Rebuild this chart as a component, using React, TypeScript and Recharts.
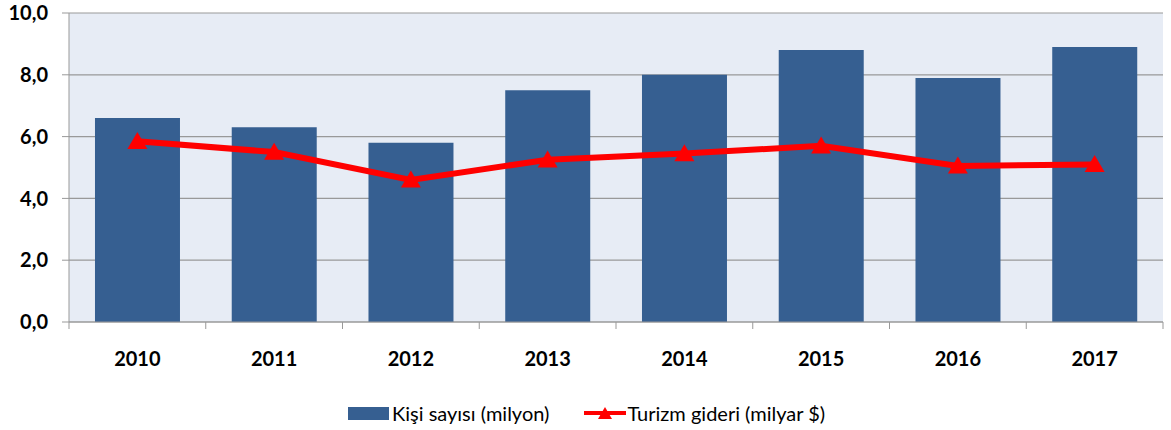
import React from 'react';
import { ComposedChart, Bar, Line, XAxis, YAxis, CartesianGrid, Legend } from 'recharts';

const categories = ['2010', '2011', '2012', '2013', '2014', '2015', '2016', '2017'];
const kisiSayisi = [6.6, 6.3, 5.8, 7.5, 8.0, 8.8, 7.9, 8.9];
const turizmGideri = [5.85, 5.5, 4.6, 5.25, 5.45, 5.7, 5.05, 5.1];
const yTicks = [0, 2, 4, 6, 8, 10];

const data = categories.map((c, i) => ({ year: c, kisi: kisiSayisi[i], turizm: turizmGideri[i] }));

const W = 1171;
const H = 430;
const PLOT_LEFT = 69;
const PLOT_RIGHT = 1163;
const BAND = (PLOT_RIGHT - PLOT_LEFT) / categories.length;
const FONT = 'Lato, "Open Sans", sans-serif';
const BAR_COLOR = '#365F91';
const RED = '#FF0000';

const Triangle = (props: any) => {
  const { cx, cy } = props;
  if (cx == null || cy == null) return null;
  const w = 20;
  const h = 17;
  return (
    <polygon
      points={`${cx - w / 2},${cy + h * 0.45} ${cx + w / 2},${cy + h * 0.45} ${cx},${cy - h * 0.55}`}
      fill={RED}
    />
  );
};

const XTick = (props: any) => {
  const { x, y, payload, index } = props;
  const axisY = y - 8;
  return (
    <g>
      <line x1={x - BAND / 2} y1={axisY} x2={x - BAND / 2} y2={axisY + 7} stroke="#999" strokeWidth={1} />
      {index === categories.length - 1 && (
        <line x1={x + BAND / 2} y1={axisY} x2={x + BAND / 2} y2={axisY + 7} stroke="#999" strokeWidth={1} />
      )}
      <text x={x} y={axisY + 44} textAnchor="middle" fontFamily={FONT} fontWeight="bold" fontSize={20} fill="#000">
        {payload.value}
      </text>
    </g>
  );
};

const LegendContent = () => (
  <div style={{ height: 58, position: 'relative', fontFamily: FONT, fontSize: 20, color: '#000' }}>
    <div style={{ position: 'absolute', left: 348, top: 29, display: 'flex', alignItems: 'center', whiteSpace: 'nowrap' }}>
      <div style={{ width: 41, height: 13, background: BAR_COLOR, marginRight: 3 }} />
      <span>Kişi sayısı (milyon)</span>
      <svg width={44} height={20} style={{ marginLeft: 34 }}>
        <line x1={1} y1={10} x2={43} y2={10} stroke={RED} strokeWidth={4} />
        <polygon points="15,16 29,16 22,4" fill={RED} />
      </svg>
      <span>Turizm gideri (milyar $)</span>
    </div>
  </div>
);

export default function App() {
  return (
    <div style={{ position: 'absolute', left: 0, top: 0, width: W, height: H, background: '#fff' }}>
      <ComposedChart width={W} height={H} data={data} margin={{ top: 13, right: W - PLOT_RIGHT, left: 0, bottom: 0 }} barCategoryGap="19%">
        <CartesianGrid vertical={false} stroke="#999" strokeWidth={1.2} fill="#E7ECF5" />
        <XAxis
          dataKey="year"
          height={50}
          tickLine={false}
          axisLine={{ stroke: '#999' }}
          tick={<XTick />}
          interval={0}
        />
        <YAxis
          width={PLOT_LEFT}
          domain={[0, 10]}
          ticks={yTicks}
          tickFormatter={(v: number) => v.toFixed(1).replace('.', ',')}
          tickSize={7}
          tickMargin={14}
          tickLine={{ stroke: '#999' }}
          axisLine={{ stroke: '#999' }}
          tick={{ fontFamily: FONT, fontWeight: 'bold', fontSize: 20, fill: '#000' }}
        />
        <Legend verticalAlign="bottom" content={<LegendContent />} />
        <Bar dataKey="kisi" name="Kişi sayısı (milyon)" fill={BAR_COLOR} isAnimationActive={false} />
        <Line
          dataKey="turizm"
          name="Turizm gideri (milyar $)"
          stroke={RED}
          strokeWidth={6}
          dot={<Triangle />}
          activeDot={false}
          isAnimationActive={false}
        />
      </ComposedChart>
    </div>
  );
}
